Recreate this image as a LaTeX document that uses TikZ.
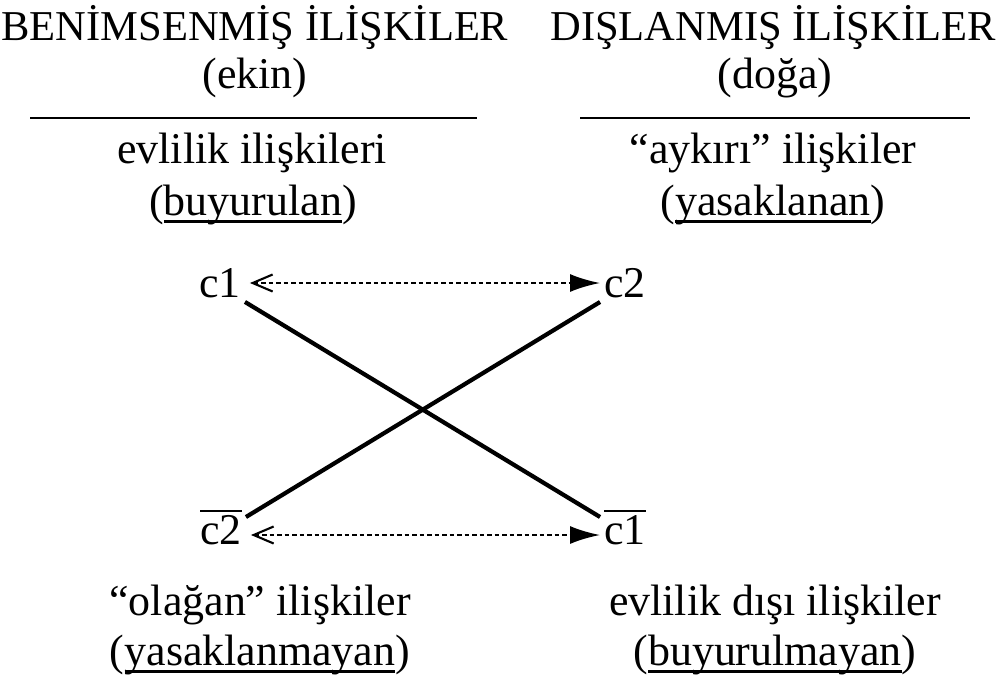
\documentclass[tikz,border=0pt]{standalone}
\usepackage{fontspec}
\setmainfont{Liberation Serif}
\usetikzlibrary{arrows.meta}
\newcommand{\negterm}[1]{$\overline{\hbox{#1}}$}
\newcommand{\uln}[1]{\setbox0\hbox{#1}\rlap{\rule[-2pt]{\wd0}{0.7pt}}\box0}

\tikzset{
  head/.style={font=\fontsize{12.1}{15}\selectfont},
  term/.style={inner sep=1pt},
  opp/.style={line width=0.65pt, dash pattern=on 0.45mm off 0.3mm,
    {Straight Barb[length=2mm, width=1.7mm, line width=0.6pt]}-{Latex[length=3mm, width=1.8mm]}},
  contra/.style={line width=1.2pt}
}

\begin{document}
\begin{tikzpicture}[x=0.1mm, y=-0.1mm, font=\fontsize{12.5}{15}\selectfont]
  \useasboundingbox (0,0) rectangle (1000,680);

  \node[head] (hl) at (255, 27) {BENİMSENMİŞ İLİŞKİLER};
  \node[head] (hr) at (773, 27) {DIŞLANMIŞ İLİŞKİLER};
  \node (hl2) at (255, 78) {(ekin)};
  \node (hr2) at (775, 78) {(doğa)};
  \draw[line width=0.6pt] (30, 118) -- (477, 118);
  \draw[line width=0.6pt] (580, 118) -- (970, 118);

  \node (tl) at (252, 153) {evlilik ilişkileri};
  \node (tl2) at (253, 205) {(\uln{buyurulan})};
  \node (tr) at (773, 153) {“aykırı” ilişkiler};
  \node (tr2) at (773, 205) {(\uln{yasaklanan})};

  \node[term] (c1) at (220, 283) {c1};
  \node[term] (c2) at (625, 283) {c2};
  \node[term] (nc2) at (221, 527) {\negterm{c2}};
  \node[term] (nc1) at (625, 527) {\negterm{c1}};

  \draw[opp] ([xshift=0.5mm]c1.east) -- (c2.west);
  \draw[opp] ([xshift=0.5mm, yshift=-0.8mm]nc2.east) -- ([yshift=-0.8mm]nc1.west);

  \draw[contra] (c1.south east) -- ([yshift=1mm]nc1.west);
  \draw[contra] ([yshift=1mm]nc2.east) -- (c2.south west);

  \node (bl) at (260, 605) {“olağan” ilişkiler};
  \node (bl2) at (260, 655) {(\uln{yasaklanmayan})};
  \node (br) at (775, 605) {evlilik dışı ilişkiler};
  \node (br2) at (775, 655) {(\uln{buyurulmayan})};
\end{tikzpicture}
\end{document}
